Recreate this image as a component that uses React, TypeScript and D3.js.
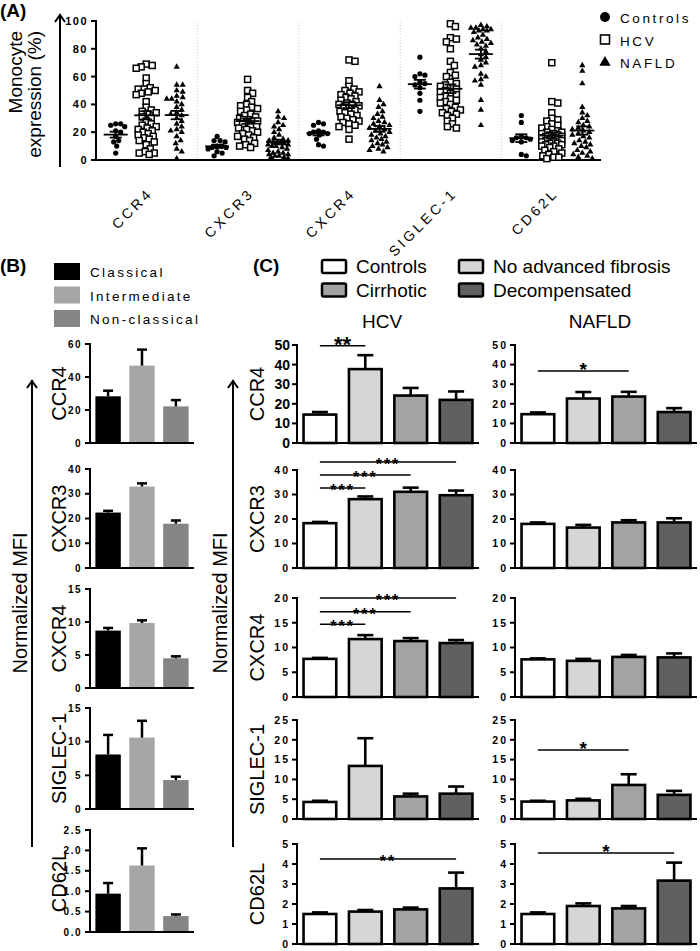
import React from 'react';
import * as d3 from 'd3';

const FONT = '"Liberation Sans", Arial, Helvetica, sans-serif';

// ---------------- Panel A data ----------------
const categoriesA = ['CCR4', 'CXCR3', 'CXCR4', 'SIGLEC-1', 'CD62L'];
const cohortsA = ['Controls', 'HCV', 'NAFLD'];

const ccr4Controls = [26, 26, 25, 24, 21, 20, 17, 14, 13, 10, 5];
const ccr4HCV = [69, 68, 67, 66, 59, 55, 52, 51, 51, 50, 49, 48, 47, 42, 38, 36, 35, 34, 33, 31, 30, 28, 26, 25, 24, 23, 22, 21, 20, 19, 18, 17, 16, 15, 14, 13, 11, 8, 6, 5, 5, 4];
const ccr4NAFLD = [67, 54, 54, 50, 49, 46, 45, 44, 44, 42, 40, 38, 36, 34, 33, 32, 30, 28, 26, 24, 22, 21, 20, 17, 14, 12, 8, 6, 1];

const cxcr3Controls = [17, 14, 14, 13, 10, 10, 9, 9, 8, 6, 5, 3];
const cxcr3HCV = [58, 50, 48, 45, 42, 40, 39, 38, 37, 36, 35, 33, 32, 31, 30, 29, 29, 28, 28, 27, 27, 26, 25, 24, 23, 22, 21, 20, 19, 18, 17, 16, 15, 14, 12, 11, 10, 9];
const cxcr3NAFLD = [35, 31, 30, 27, 25, 24, 22, 20, 18, 16, 15, 14, 14, 13, 13, 12, 12, 11, 11, 10, 10, 9, 8, 7, 6, 5, 5, 4, 4, 3, 3, 2, 2, 1];

const cxcr4Controls = [27, 26, 25, 21, 20, 20, 19, 19, 18, 15, 11, 10];
const cxcr4HCV = [72, 71, 57, 53, 51, 50, 49, 48, 47, 46, 45, 44, 43, 42, 41, 40, 40, 39, 38, 37, 36, 35, 34, 33, 32, 31, 30, 29, 28, 27, 26, 25, 24, 22, 15];
const cxcr4NAFLD = [53, 43, 40, 38, 35, 33, 31, 30, 28, 27, 26, 25, 24, 23, 22, 21, 20, 19, 18, 17, 16, 15, 14, 13, 12, 11, 10, 9, 8, 7, 6];

const siglecControls = [74, 62, 61, 60, 56, 55, 54, 52, 48, 43, 35];
const siglecHCV = [98, 96, 88, 87, 85, 80, 71, 68, 63, 61, 60, 56, 55, 54, 53, 52, 51, 50, 49, 48, 47, 46, 45, 44, 43, 42, 41, 40, 38, 37, 36, 35, 34, 33, 32, 30, 28, 26, 24, 23];
const siglecNAFLD = [97, 96, 95, 95, 94, 94, 93, 93, 92, 90, 88, 87, 86, 85, 84, 83, 82, 80, 78, 76, 74, 72, 70, 68, 67, 62, 60, 58, 57, 54, 43, 36, 25];

const cd62lControls = [32, 27, 17, 16, 16, 15, 14, 13, 4, 3];
const cd62lHCV = [70, 42, 41, 34, 30, 29, 28, 26, 25, 24, 23, 22, 21, 20, 20, 19, 19, 18, 18, 17, 17, 16, 16, 15, 15, 14, 14, 13, 13, 12, 12, 11, 11, 10, 10, 9, 8, 7, 6, 5, 4, 3, 2, 2, 1];
const cd62lNAFLD = [68, 64, 55, 38, 34, 32, 30, 28, 27, 25, 24, 23, 22, 21, 20, 19, 18, 17, 16, 14, 13, 12, 11, 10, 9, 7, 6, 5, 4, 3, 2, 1];

const ticksA = [0, 20, 40, 60, 80, 100];

// ---------------- Panel B data ----------------
const subsetsB = ['Classical', 'Intermediate', 'Non-classical'];
const markersB = ['CCR4', 'CXCR3', 'CXCR4', 'SIGLEC-1', 'CD62L'];
const bCCR4Mean = [28.3, 46.9, 22.2];
const bCCR4Sem = [3.4, 9.7, 3.8];
const bCXCR3Mean = [22.4, 32.9, 17.9];
const bCXCR3Sem = [0.7, 1.3, 1.3];
const bCXCR4Mean = [8.7, 9.85, 4.5];
const bCXCR4Sem = [0.4, 0.4, 0.3];
const bSIGLECMean = [8.1, 10.6, 4.3];
const bSIGLECSem = [2.9, 2.5, 0.5];
const bCD62LMean = [0.94, 1.63, 0.39];
const bCD62LSem = [0.26, 0.42, 0.04];
const bMax = [60, 40, 15, 15, 2.5];
const bTickStep = [20, 10, 5, 5, 0.5];

// ---------------- Panel C data ----------------
const stagesC = ['Controls', 'No advanced fibrosis', 'Cirrhotic', 'Decompensated'];
const cohortsC = ['HCV', 'NAFLD'];
const markersC = ['CCR4', 'CXCR3', 'CXCR4', 'SIGLEC-1', 'CD62L'];
const hcvCCR4Mean = [14.5, 37.7, 24.2, 22.0];
const hcvCCR4Sem = [1.3, 7.1, 3.9, 4.3];
const hcvCXCR3Mean = [18.3, 28.1, 31.1, 29.7];
const hcvCXCR3Sem = [0.5, 1.1, 1.7, 1.9];
const hcvCXCR4Mean = [7.7, 11.7, 11.3, 10.9];
const hcvCXCR4Sem = [0.2, 0.8, 0.6, 0.6];
const hcvSIGLECMean = [4.3, 13.4, 5.7, 6.4];
const hcvSIGLECSem = [0.3, 7.0, 0.7, 1.8];
const hcvCD62LMean = [1.5, 1.62, 1.73, 2.78];
const hcvCD62LSem = [0.08, 0.08, 0.09, 0.79];
const naflCCR4Mean = [14.7, 22.7, 23.7, 15.8];
const naflCCR4Sem = [0.9, 3.3, 2.4, 2.0];
const naflCXCR3Mean = [18.0, 16.5, 18.6, 18.6];
const naflCXCR3Sem = [0.6, 1.1, 0.9, 1.7];
const naflCXCR4Mean = [7.6, 7.3, 8.1, 8.0];
const naflCXCR4Sem = [0.2, 0.4, 0.4, 0.8];
const naflSIGLECMean = [4.4, 4.7, 8.6, 6.1];
const naflSIGLECSem = [0.2, 0.4, 2.7, 1.0];
const naflCD62LMean = [1.5, 1.9, 1.78, 3.17];
const naflCD62LSem = [0.08, 0.13, 0.12, 0.9];
const cMax = [50, 40, 20, 25, 5];
const cTickStep = [10, 10, 5, 5, 1];

const sigBrackets = [
  { cohort: 'HCV', marker: 'CCR4', from: 0, to: 1, level: 49.6, label: '**' },
  { cohort: 'HCV', marker: 'CXCR3', from: 0, to: 3, level: 43.3, label: '***' },
  { cohort: 'HCV', marker: 'CXCR3', from: 0, to: 2, level: 38, label: '***' },
  { cohort: 'HCV', marker: 'CXCR3', from: 0, to: 1, level: 32.7, label: '***' },
  { cohort: 'HCV', marker: 'CXCR4', from: 0, to: 3, level: 20, label: '***' },
  { cohort: 'HCV', marker: 'CXCR4', from: 0, to: 2, level: 17.2, label: '***' },
  { cohort: 'HCV', marker: 'CXCR4', from: 0, to: 1, level: 14.7, label: '***' },
  { cohort: 'HCV', marker: 'CD62L', from: 0, to: 3, level: 4.25, label: '**' },
  { cohort: 'NAFLD', marker: 'CCR4', from: 0, to: 2, level: 36.7, label: '*' },
  { cohort: 'NAFLD', marker: 'SIGLEC-1', from: 0, to: 2, level: 17.4, label: '*' },
  { cohort: 'NAFLD', marker: 'CD62L', from: 0, to: 3, level: 4.55, label: '*' },
];

// ---------------- Tables built from arrays ----------------
const scatterA = [
  [ccr4Controls, ccr4HCV, ccr4NAFLD],
  [cxcr3Controls, cxcr3HCV, cxcr3NAFLD],
  [cxcr4Controls, cxcr4HCV, cxcr4NAFLD],
  [siglecControls, siglecHCV, siglecNAFLD],
  [cd62lControls, cd62lHCV, cd62lNAFLD],
];
const bMeans = [bCCR4Mean, bCXCR3Mean, bCXCR4Mean, bSIGLECMean, bCD62LMean];
const bSems = [bCCR4Sem, bCXCR3Sem, bCXCR4Sem, bSIGLECSem, bCD62LSem];
const cMeans: Record<string, number[][]> = {
  HCV: [hcvCCR4Mean, hcvCXCR3Mean, hcvCXCR4Mean, hcvSIGLECMean, hcvCD62LMean],
  NAFLD: [naflCCR4Mean, naflCXCR3Mean, naflCXCR4Mean, naflSIGLECMean, naflCD62LMean],
};
const cSems: Record<string, number[][]> = {
  HCV: [hcvCCR4Sem, hcvCXCR3Sem, hcvCXCR4Sem, hcvSIGLECSem, hcvCD62LSem],
  NAFLD: [naflCCR4Sem, naflCXCR3Sem, naflCXCR4Sem, naflSIGLECSem, naflCD62LSem],
};

// ---------------- Layout ----------------
const bRowTop = [344, 469, 589, 708, 830];
const bRowBottom = [443, 568, 688, 809, 932];
const cRowTop = [345, 470, 598, 720, 844];
const cRowBottom = [443, 568, 697, 819, 944];
const cAxisX: Record<string, number> = { HCV: 297, NAFLD: 515 };
const bColors = ['#000000', '#a6a6a6', '#858585'];
const cFills = ['#ffffff', '#d6d6d6', '#a3a3a3', '#606060'];

function swarm(values: number[], y: (v: number) => number, cx: number, d: number, maxW: number) {
  const placed: { x: number; y: number }[] = [];
  const sorted = [...values].sort((a, b) => b - a);
  const offsets = [0];
  for (let i = 1; i <= maxW; i++) offsets.push(i, -i);
  for (const v of sorted) {
    const yy = y(v);
    let best = cx;
    let bestD = -1;
    for (const o of offsets) {
      const cand = cx + o;
      let md = Infinity;
      for (const p of placed) md = Math.min(md, Math.hypot(p.x - cand, p.y - yy));
      if (md >= d) { best = cand; bestD = md; break; }
      if (md > bestD + 0.01) { bestD = md; best = cand; }
    }
    placed.push({ x: best, y: yy });
  }
  return placed;
}

function Marker({ kind, x, y, big }: { kind: number; x: number; y: number; big?: boolean }) {
  if (kind === 0) return <circle cx={x} cy={y} r={big ? 5 : 2.6} fill="#000" />;
  if (kind === 1) {
    const s = big ? 9 : 6;
    return <rect x={x - s / 2} y={y - s / 2} width={s} height={s} fill="#fff" stroke="#000" strokeWidth={big ? 1.6 : 1.5} />;
  }
  const p = d3.symbol(d3.symbolTriangle, big ? 55 : 17)();
  return <path d={p || ''} transform={`translate(${x},${y + (big ? 0.5 : 0)})`} fill="#000" />;
}

function Arrow({ x, y1, y2 }: { x: number; y1: number; y2: number }) {
  return (
    <g stroke="#000" strokeWidth={2} fill="none">
      <line x1={x} x2={x} y1={y2} y2={y1} />
      <polyline points={`${x - 5},${y1 + 8} ${x},${y1 + 1} ${x + 5},${y1 + 8}`} />
    </g>
  );
}

function PanelA() {
  const y = d3.scaleLinear().domain([0, 100]).range([160, 21]);
  const x = d3.scaleBand<string>().domain(categoriesA).range([96, 603]).padding(0);
  const sub = d3.scalePoint<string>().domain(cohortsA).range([-31, 30]);
  const bw = x.bandwidth();
  return (
    <g>
      <text x={0} y={17} fontSize={19} fontWeight="bold">(A)</text>
      <g fontSize={19}>
        <text transform="translate(22,31) rotate(-90)" textAnchor="end">Monocyte</text>
        <text transform="translate(41,31) rotate(-90)" textAnchor="end">expression (%)</text>
      </g>
      <Arrow x={60} y1={14} y2={167} />
      {categoriesA.slice(1).map((c) => (
        <line key={c} x1={x(c)!} x2={x(c)!} y1={22} y2={159} stroke="#c8c8c8" strokeDasharray="1,2" strokeWidth={1} />
      ))}
      <line x1={96} x2={96} y1={20} y2={161} stroke="#000" strokeWidth={2} />
      {ticksA.map((t) => (
        <g key={t}>
          <line x1={91} x2={96} y1={y(t)} y2={y(t)} stroke="#000" strokeWidth={2} />
          <text x={88} y={y(t) + 4} textAnchor="end" fontSize={11} fontWeight="bold" letterSpacing={1.5}>{t}</text>
        </g>
      ))}
      <line x1={95} x2={601} y1={160} y2={160} stroke="#000" strokeWidth={2} />
      {categoriesA.map((c, ci) => {
        const cx0 = x(c)! + bw / 2;
        return (
          <g key={c}>
            {cohortsA.map((g, gi) => {
              const vals = scatterA[ci][gi];
              const cx = cx0 + sub(g)!;
              const pts = swarm(vals, y, cx, gi === 0 ? 5 : 5.2, gi === 0 ? 9 : 10);
              const m = d3.mean(vals)!;
              const sem = d3.deviation(vals)! / Math.sqrt(vals.length);
              return (
                <g key={g}>
                  {pts.map((p, i) => <Marker key={i} kind={gi} x={p.x} y={p.y} />)}
                  <g stroke="#000" strokeWidth={1.8}>
                    <line x1={cx - 12} x2={cx + 12} y1={y(m)} y2={y(m)} />
                    <line x1={cx} x2={cx} y1={y(m - sem)} y2={y(m + sem)} />
                    <line x1={cx - 6} x2={cx + 6} y1={y(m - sem)} y2={y(m - sem)} />
                    <line x1={cx - 6} x2={cx + 6} y1={y(m + sem)} y2={y(m + sem)} />
                  </g>
                </g>
              );
            })}
            <text transform={`translate(${cx0 + 7},194) rotate(-45)`} textAnchor="end" fontSize={14} letterSpacing={3.2}>{c}</text>
          </g>
        );
      })}
      {cohortsA.map((g, gi) => (
        <g key={g}>
          <Marker kind={gi} x={605} y={17 + gi * 22.5} big />
          <text x={620} y={23 + gi * 22.5} fontSize={13.5} letterSpacing={2.6}>{g}</text>
        </g>
      ))}
    </g>
  );
}

function PanelB() {
  const x = d3.scaleBand<string>().domain(subsetsB).range([92, 192]).paddingInner(0.25).paddingOuter(0.1);
  return (
    <g>
      <text x={0} y={272} fontSize={19} fontWeight="bold">(B)</text>
      {subsetsB.map((s, i) => (
        <g key={s}>
          <rect x={54} y={263 + i * 23.5} width={26} height={17} fill={bColors[i]} />
          <text x={90} y={277 + i * 23.5} fontSize={13.5} letterSpacing={2.3}>{s}</text>
        </g>
      ))}
      <Arrow x={32} y1={380} y2={847} />
      <text transform="translate(27,603) rotate(-90)" textAnchor="middle" fontSize={20}>Normalized MFI</text>
      {markersB.map((mk, mi) => {
        const y = d3.scaleLinear().domain([0, bMax[mi]]).range([bRowBottom[mi], bRowTop[mi]]);
        const ticks = d3.range(0, bMax[mi] + 1e-9, bTickStep[mi]);
        const fmt = bTickStep[mi] < 1 ? d3.format('.1f') : d3.format('d');
        return (
          <g key={mk}>
            <text transform={`translate(66,${(bRowTop[mi] + bRowBottom[mi]) / 2}) rotate(-90)`} textAnchor="middle" fontSize={20}>{mk}</text>
            {subsetsB.map((s, si) => {
              const m = bMeans[mi][si];
              const e = bSems[mi][si];
              const bx = x(s)!;
              const cx = bx + x.bandwidth() / 2;
              return (
                <g key={s}>
                  <rect x={bx} y={y(m)} width={x.bandwidth()} height={y(0) - y(m)} fill={bColors[si]} />
                  <line x1={cx} x2={cx} y1={y(m)} y2={y(m + e)} stroke="#000" strokeWidth={2.5} />
                  <line x1={cx - 5} x2={cx + 5} y1={y(m + e)} y2={y(m + e)} stroke="#000" strokeWidth={2.5} />
                </g>
              );
            })}
            <line x1={90} x2={90} y1={y(bMax[mi]) - 1} y2={y(0) + 1} stroke="#000" strokeWidth={2} />
            <line x1={89} x2={194} y1={y(0)} y2={y(0)} stroke="#000" strokeWidth={2} />
            {ticks.map((t) => (
              <g key={t}>
                <line x1={85} x2={90} y1={y(t)} y2={y(t)} stroke="#000" strokeWidth={2} />
                <text x={82} y={y(t) + 3.5} textAnchor="end" fontSize={10} fontWeight="bold" letterSpacing={1.5}>{fmt(t)}</text>
              </g>
            ))}
          </g>
        );
      })}
    </g>
  );
}

function PanelC() {
  return (
    <g>
      <text x={253} y={272} fontSize={19} fontWeight="bold">(C)</text>
      {stagesC.map((s, i) => {
        const col = i % 2;
        const row = Math.floor(i / 2);
        const bx = col === 0 ? 322 : 459;
        const by = 260 + row * 23.5;
        return (
          <g key={s}>
            <rect x={bx} y={by} width={24} height={13} rx={1.5} fill={cFills[i]} stroke="#000" strokeWidth={2.5} />
            <text x={bx + 34} y={by + 13} fontSize={19}>{s}</text>
          </g>
        );
      })}
      <Arrow x={233} y1={380} y2={847} />
      <text transform="translate(227,603) rotate(-90)" textAnchor="middle" fontSize={20}>Normalized MFI</text>
      {markersC.map((mk, mi) => (
        <text key={mk} transform={`translate(264,${(cRowTop[mi] + cRowBottom[mi]) / 2}) rotate(-90)`} textAnchor="middle" fontSize={20}>{mk}</text>
      ))}
      {cohortsC.map((co) => {
        const ax = cAxisX[co];
        const x = d3.scaleBand<string>().domain(stagesC).range([ax + 2, ax + 180]).paddingInner(0.28).paddingOuter(0.1);
        return (
          <g key={co}>
            <text x={ax + 85} y={328} textAnchor="middle" fontSize={19}>{co}</text>
            {markersC.map((mk, mi) => {
              const y = d3.scaleLinear().domain([0, cMax[mi]]).range([cRowBottom[mi], cRowTop[mi]]);
              const ticks = d3.range(0, cMax[mi] + 1e-9, cTickStep[mi]);
              const big = co === 'HCV' && mi === 0;
              return (
                <g key={mk}>
                  {stagesC.map((s, si) => {
                    const m = cMeans[co][mi][si];
                    const e = cSems[co][mi][si];
                    const bx = x(s)!;
                    const cx = bx + x.bandwidth() / 2;
                    return (
                      <g key={s}>
                        <line x1={cx} x2={cx} y1={y(m)} y2={y(m + e)} stroke="#000" strokeWidth={2.6} />
                        <line x1={cx - 8} x2={cx + 8} y1={y(m + e)} y2={y(m + e)} stroke="#000" strokeWidth={2.6} />
                        <rect x={bx} y={y(m)} width={x.bandwidth()} height={y(0) - y(m)} fill={cFills[si]} stroke="#000" strokeWidth={2.6} />
                      </g>
                    );
                  })}
                  <line x1={ax} x2={ax} y1={y(cMax[mi]) - 1} y2={y(0) + 1} stroke="#000" strokeWidth={2} />
                  <line x1={ax - 1} x2={ax + 182} y1={y(0)} y2={y(0)} stroke="#000" strokeWidth={2} />
                  {ticks.map((t) => (
                    <g key={t}>
                      <line x1={ax - 5} x2={ax} y1={y(t)} y2={y(t)} stroke="#000" strokeWidth={2} />
                      <text x={ax - 7} y={y(t) + (big ? 5 : 3.8)} textAnchor="end" fontSize={big ? 14 : 10.5} fontWeight="bold" letterSpacing={big ? 0 : 2}>{t}</text>
                    </g>
                  ))}
                  {sigBrackets.filter((b) => b.cohort === co && b.marker === mk).map((b, bi) => {
                    const x1 = x(stagesC[b.from])! + x.bandwidth() / 2;
                    const x2 = x(stagesC[b.to])! + x.bandwidth() / 2;
                    const ly = y(b.level);
                    const single = b.label === '*';
                    const fs = big ? 22 : single ? 19 : 16;
                    const dy = big ? 6 : single ? 5 : 8;
                    return (
                      <g key={bi}>
                        <line x1={x1} x2={x2} y1={ly} y2={ly} stroke="#000" strokeWidth={1.5} />
                        <text x={(x1 + x2) / 2} y={ly + dy} textAnchor="middle" fontSize={fs} fontWeight="bold" letterSpacing={big || single ? 0 : 2}>{b.label}</text>
                      </g>
                    );
                  })}
                </g>
              );
            })}
          </g>
        );
      })}
    </g>
  );
}

export default function App() {
  return (
    <svg width={700} height={951} viewBox="0 0 700 951" style={{ position: 'absolute', left: 0, top: 0, background: '#fff' }} fontFamily={FONT}>
      <rect width={700} height={951} fill="#fff" />
      <PanelA />
      <PanelB />
      <PanelC />
    </svg>
  );
}
